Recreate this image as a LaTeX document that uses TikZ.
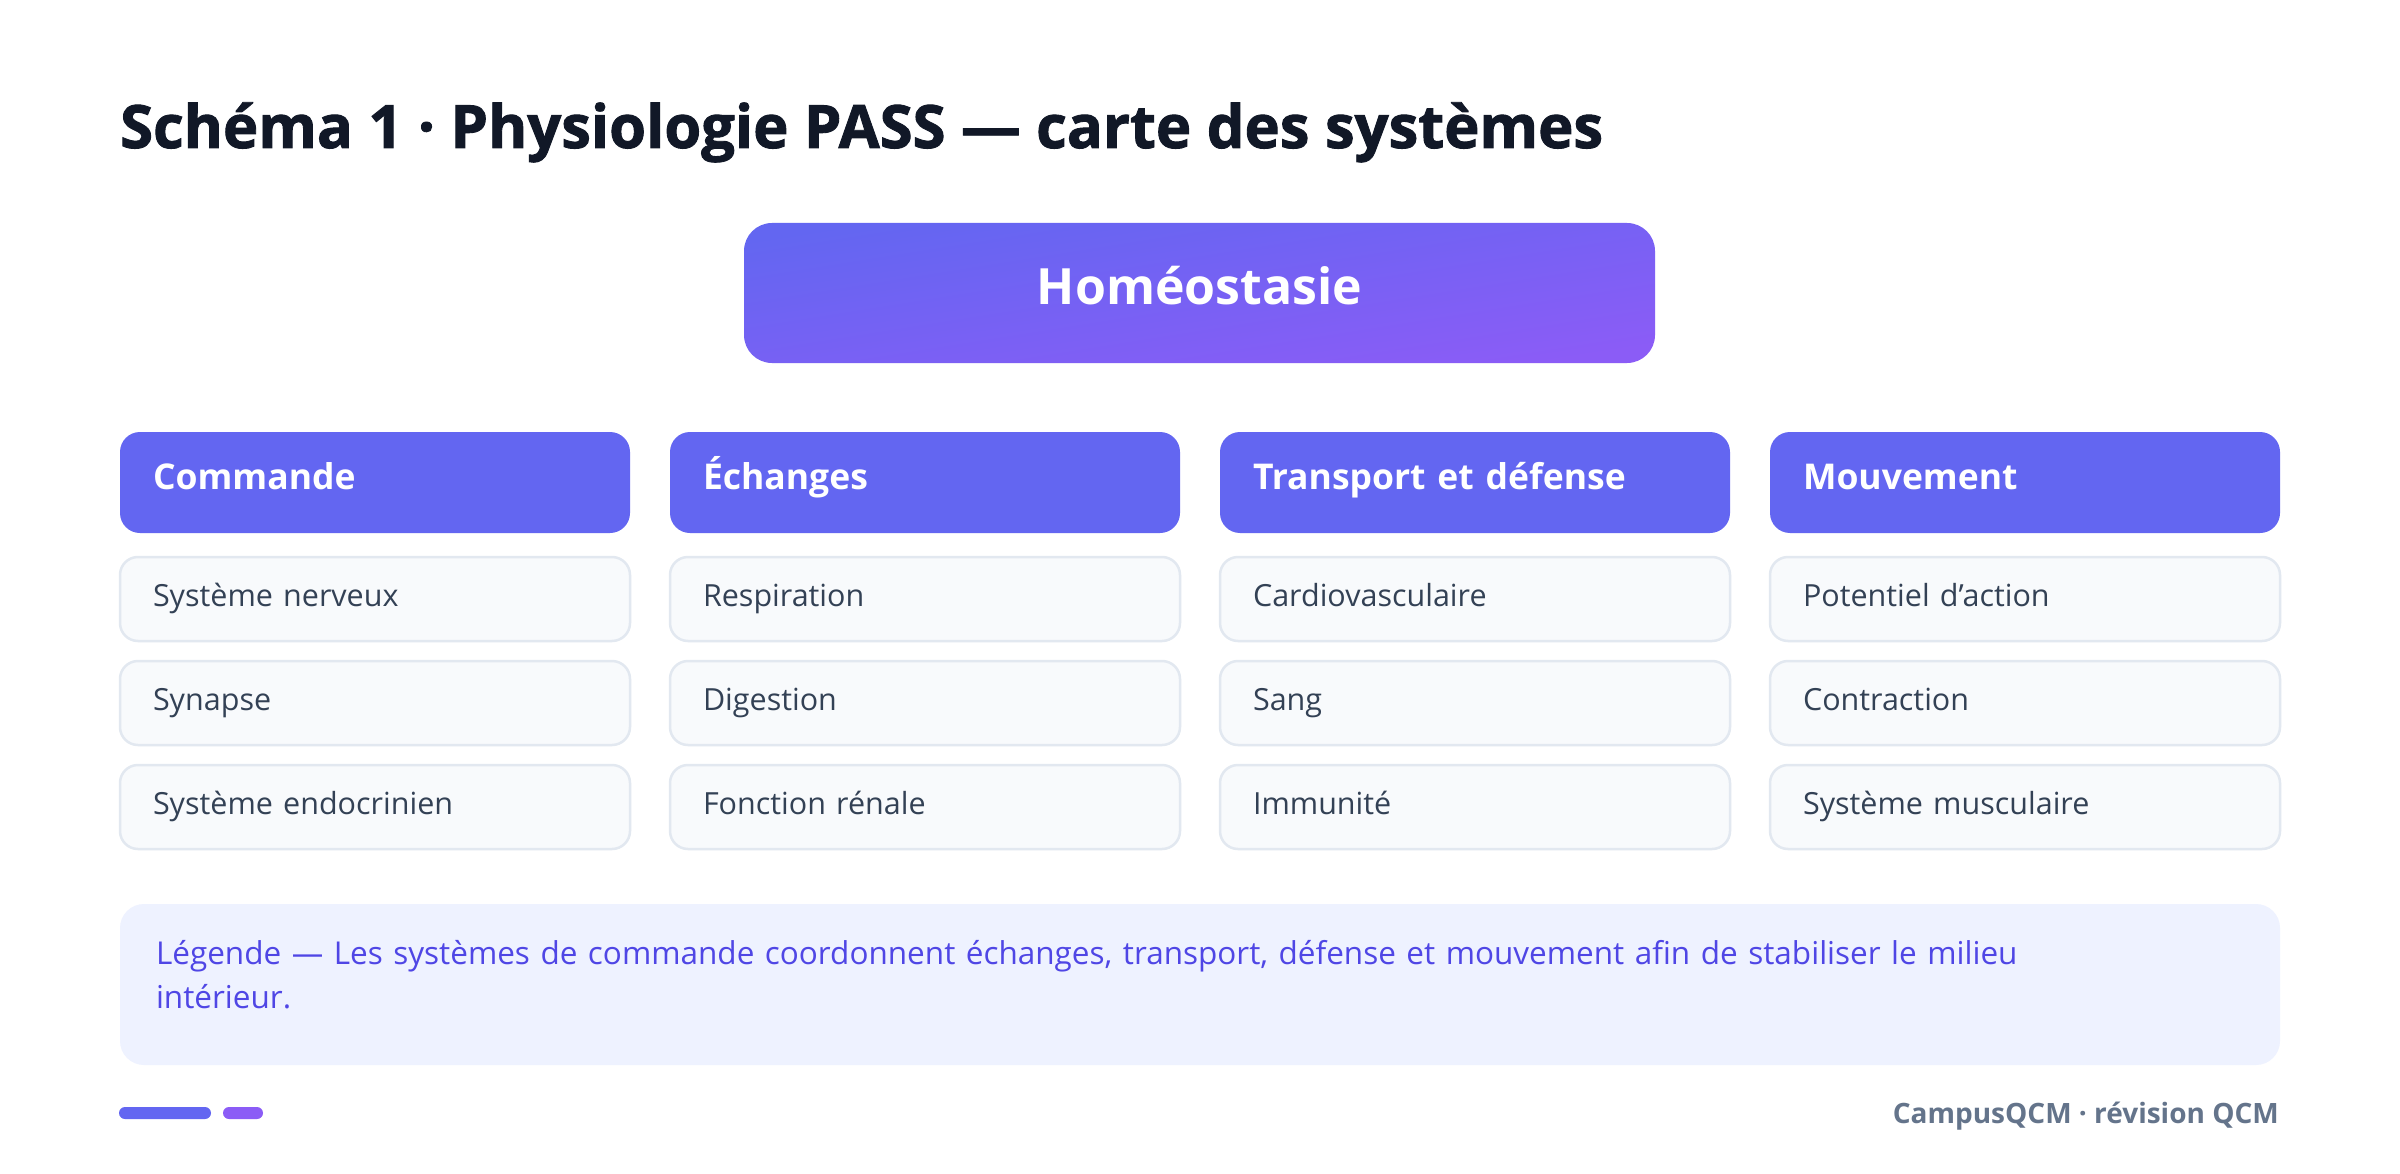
\documentclass[tikz,border=0pt]{standalone}
\usepackage{fontspec}
\setmainfont{Open Sans}
\newfontfamily\heavyfont{Open Sans}[BoldFeatures={FakeBold=1.5}]
\usepackage{tikz}
\usetikzlibrary{positioning}
\definecolor{ink}{HTML}{111827}
\definecolor{indigo}{HTML}{6366F1}
\definecolor{pillviolet}{HTML}{8B5CF6}
\definecolor{itemfill}{HTML}{F8FAFC}
\definecolor{itemline}{HTML}{E2E8F0}
\definecolor{itemtext}{HTML}{334155}
\definecolor{legendfill}{HTML}{EEF2FF}
\definecolor{legendtext}{HTML}{4F46E5}
\definecolor{foottext}{HTML}{64748B}

\begin{document}
\begin{tikzpicture}[x=1pt,y=-1pt,
  hubbox/.style={rounded corners=28pt, top color=indigo, bottom color=pillviolet, shading angle=9,
    minimum width=911pt, minimum height=140pt, inner sep=0pt, text=white,
    font=\fontsize{50}{60}\selectfont\bfseries, text height=37pt, text depth=13pt},
  headbox/.style={fill=indigo, rounded corners=20pt, minimum width=510pt, minimum height=101pt,
    text width=444pt, inner xsep=33pt, inner ysep=0pt, outer sep=0pt, align=left, text=white,
    font=\fontsize{35.5}{44}\selectfont\bfseries, text height=25.5pt, text depth=10.9pt},
  itembox/.style={fill=itemfill, draw=itemline, line width=2.5pt, rounded corners=18pt,
    minimum width=510pt, minimum height=84pt, text width=444pt, inner xsep=33pt, inner ysep=0pt,
    outer sep=0pt, align=left, text=itemtext, font=\fontsize{30.5}{38}\selectfont,
    text height=22pt, text depth=8pt},
  legendbox/.style={fill=legendfill, rounded corners=24pt, minimum width=2160pt, minimum height=161pt,
    text width=2088pt, inner xsep=36pt, outer sep=0pt, align=left, text=legendtext,
    font=\fontsize{31.5}{44}\selectfont, text depth=64pt}]
\fill[white] (0,0) rectangle (2400,1174);
\useasboundingbox (0,0) rectangle (2400,1174);

\node[anchor=base west, inner sep=0pt, text=ink, font=\heavyfont\fontsize{59.7}{72}\selectfont\bfseries] (title) at (120,148)
  {Schéma 1 · Physiologie PASS — carte des systèmes};

\node[hubbox] (hub) at (1199.5,293) {Homéostasie};

% column heads
\node[headbox, anchor=north west] (cmd) at (120,432) {Commande};
\node[headbox, right=40pt of cmd] (ech) {Échanges};
\node[headbox, right=40pt of ech] (trd) {Transport et défense};
\node[headbox, right=40pt of trd] (mvt) {Mouvement};

\node[itembox, below=24pt of cmd] (cmd1) {Système nerveux};
\node[itembox, below=20pt of cmd1] (cmd2) {Synapse};
\node[itembox, below=20pt of cmd2] (cmd3) {Système endocrinien};

\node[itembox, below=24pt of ech] (ech1) {Respiration};
\node[itembox, below=20pt of ech1] (ech2) {Digestion};
\node[itembox, below=20pt of ech2] (ech3) {Fonction rénale};

\node[itembox, below=24pt of trd] (trd1) {Cardiovasculaire};
\node[itembox, below=20pt of trd1] (trd2) {Sang};
\node[itembox, below=20pt of trd2] (trd3) {Immunité};

\node[itembox, below=24pt of mvt] (mvt1) {Potentiel d'action};
\node[itembox, below=20pt of mvt1] (mvt2) {Contraction};
\node[itembox, below=20pt of mvt2] (mvt3) {Système musculaire};

% legend and footer
\node[legendbox, below=55pt of cmd3.south west, anchor=north west] (legend)
  {Légende — Les systèmes de commande coordonnent échanges, transport, défense et mouvement afin de stabiliser le milieu\\intérieur.};

\fill[indigo, rounded corners=6pt] (119,1107) rectangle (211,1119);
\fill[pillviolet, rounded corners=6pt] (223,1107) rectangle (263,1119);
\node[anchor=base east, inner sep=0pt, text=foottext, font=\fontsize{28}{34}\selectfont\bfseries] (foot) at (2279,1123)
  {CampusQCM · révision QCM};
\end{tikzpicture}
\end{document}
